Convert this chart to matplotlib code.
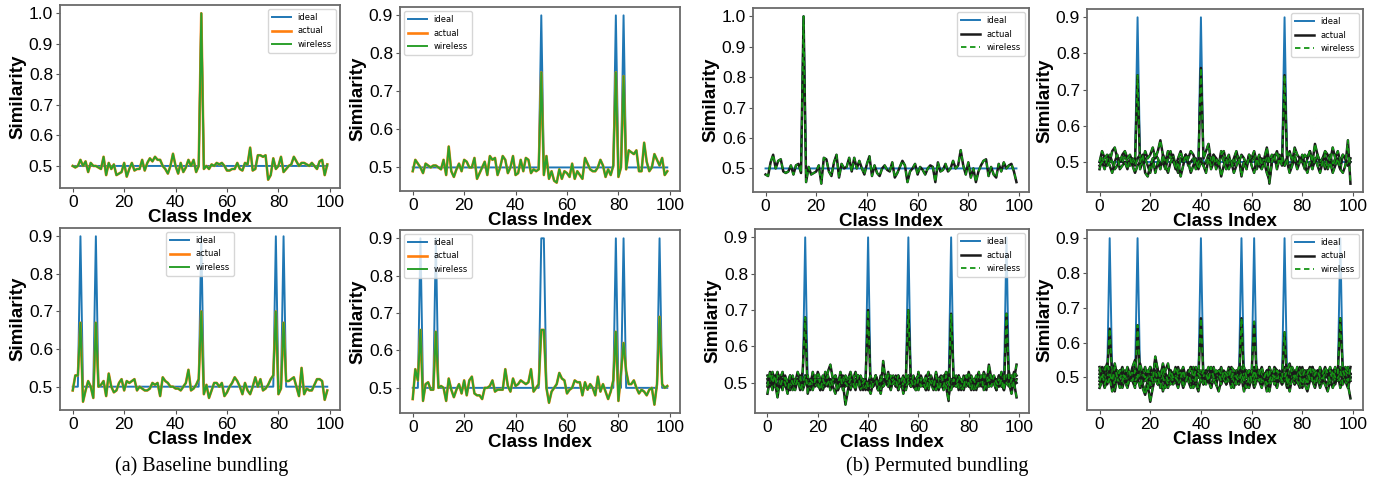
import matplotlib
matplotlib.use("Agg")
import matplotlib.pyplot as plt

x = list(range(100))
xticks = [0, 20, 40, 60, 80, 100]
yticks_1 = [0.5, 0.6, 0.7, 0.8, 0.9, 1.0]
yticks_09 = [0.5, 0.6, 0.7, 0.8, 0.9]

# bundled class indices (where the ideal similarity jumps) and ideal peak height
a1_peaks, a1_top = [50], 1.0
a2_peaks, a2_top = [50, 79, 82], 0.9
a3_peaks, a3_top = [3, 9, 50, 79, 82], 0.9
a4_peaks, a4_top = [3, 9, 50, 51, 79, 82, 96], 0.9
b1_peaks, b1_top = [15], 1.0
b2_peaks, b2_top = [15, 40, 73], 0.9
b3_peaks, b3_top = [15, 40, 56, 73, 95], 0.9
b4_peaks, b4_top = [4, 15, 40, 56, 61, 73, 95], 0.9

# (a) baseline bundling: measured similarity (actual and wireless overlap)
a1_sim = [.50, .495, .50, .52, .50, .515, .48, .51, .50, .50,
          .495, .49, .53, .47, .51, .49, .505, .47, .475, .48,
          .51, .465, .49, .51, .485, .49, .49, .52, .485, .51,
          .525, .515, .53, .52, .52, .50, .49, .475, .50, .54,
          .50, .475, .51, .48, .495, .52, .50, .52, .48, .50,
          1.0, .49, .50, .49, .505, .50, .51, .505, .51, .50,
          .485, .485, .49, .49, .51, .49, .485, .51, .505, .56,
          .485, .49, .535, .535, .53, .535, .455, .47, .525, .49,
          .50, .53, .48, .49, .50, .505, .53, .515, .50, .51,
          .51, .505, .50, .51, .50, .49, .515, .52, .47, .505]
a2_sim = [.49, .52, .51, .50, .485, .51, .505, .50, .505, .505,
          .50, .495, .52, .48, .555, .49, .475, .495, .51, .49,
          .52, .515, .50, .50, .525, .47, .485, .50, .515, .48,
          .53, .52, .525, .48, .50, .53, .52, .485, .50, .53,
          .48, .485, .52, .49, .525, .52, .485, .495, .49, .495,
          .75, .48, .53, .47, .49, .465, .46, .495, .47, .49,
          .485, .475, .51, .47, .49, .48, .47, .525, .51, .495,
          .49, .49, .50, .52, .505, .475, .495, .48, .505, .75,
          .475, .50, .74, .495, .545, .54, .535, .545, .49, .49,
          .565, .515, .49, .50, .535, .52, .505, .525, .48, .49]
a3_sim = [.49, .53, .53, .67, .46, .49, .515, .50, .47, .67,
          .50, .505, .515, .475, .535, .50, .485, .49, .51, .52,
          .49, .515, .51, .515, .52, .49, .50, .495, .49, .49,
          .495, .51, .505, .51, .475, .525, .515, .51, .50, .50,
          .495, .495, .49, .50, .51, .545, .49, .495, .505, .52,
          .70, .48, .505, .47, .49, .51, .51, .50, .51, .475,
          .485, .50, .51, .525, .515, .50, .48, .51, .49, .48,
          .50, .525, .50, .52, .49, .495, .505, .52, .53, .70,
          .48, .495, .67, .515, .515, .52, .525, .50, .475, .55,
          .48, .495, .49, .49, .505, .52, .52, .515, .465, .49]
a4_sim = [.47, .55, .52, .655, .465, .51, .515, .495, .495, .65,
          .50, .505, .50, .465, .525, .495, .475, .495, .51, .485,
          .52, .48, .52, .53, .485, .48, .48, .47, .50, .50,
          .505, .52, .49, .495, .495, .495, .55, .505, .49, .525,
          .505, .51, .52, .515, .51, .515, .55, .49, .50, .51,
          .655, .655, .50, .46, .49, .50, .51, .54, .525, .52,
          .485, .495, .50, .52, .515, .515, .48, .515, .495, .51,
          .50, .48, .53, .49, .51, .49, .47, .49, .52, .65,
          .465, .54, .62, .545, .51, .51, .52, .50, .485, .495,
          .49, .48, .495, .50, .455, .51, .69, .51, .50, .505]

# (b) permuted bundling: one measured curve per bundled class
b1_sims = [
    [.48, .475, .52, .545, .50, .525, .53, .49, .485, .49,
     .51, .48, .51, .515, .485, 1.0, .455, .505, .48, .485,
     .49, .51, .45, .535, .53, .49, .475, .52, .545, .47,
     .515, .50, .505, .535, .49, .535, .50, .525, .50, .48,
     .515, .54, .475, .51, .485, .475, .50, .51, .495, .49,
     .52, .47, .485, .505, .525, .51, .455, .49, .50, .515,
     .48, .505, .495, .48, .50, .51, .505, .455, .52, .49,
     .495, .515, .49, .50, .525, .50, .51, .56, .51, .48,
     .52, .47, .50, .455, .49, .51, .525, .53, .475, .505,
     .48, .47, .515, .49, .52, .50, .51, .515, .49, .455],
]
b2_sims = [
    [.48, .51, .50, .49, .52, .50, .48, .49, .51, .50,
     .52, .50, .49, .51, .50, .74, .48, .50, .51, .49,
     .47, .50, .52, .51, .49, .50, .48, .51, .53, .50,
     .49, .47, .51, .50, .52, .49, .50, .51, .48, .50,
     .51, .49, .50, .52, .48, .50, .51, .49, .53, .50,
     .48, .51, .50, .49, .52, .51, .47, .50, .49, .51,
     .50, .52, .48, .50, .51, .49, .53, .44, .50, .51,
     .49, .52, .50, .49, .51, .48, .50, .52, .49, .51,
     .50, .48, .51, .53, .49, .50, .52, .49, .51, .48,
     .50, .52, .49, .51, .50, .48, .52, .51, .49, .50],
    [.50, .53, .51, .52, .50, .53, .54, .51, .50, .52,
     .53, .51, .52, .50, .49, .51, .52, .50, .53, .51,
     .52, .54, .51, .53, .56, .52, .50, .53, .51, .52,
     .49, .51, .53, .50, .52, .51, .53, .52, .50, .49,
     .76, .51, .53, .55, .50, .52, .51, .49, .52, .53,
     .50, .52, .49, .51, .53, .50, .52, .51, .49, .52,
     .51, .53, .50, .52, .49, .51, .54, .50, .52, .51,
     .53, .50, .52, .49, .51, .53, .50, .54, .52, .51,
     .50, .52, .51, .53, .50, .55, .52, .50, .51, .53,
     .52, .50, .54, .51, .53, .50, .52, .51, .49, .51],
    [.49, .50, .48, .51, .49, .47, .50, .52, .48, .49,
     .50, .48, .51, .49, .47, .49, .50, .52, .47, .46,
     .49, .51, .47, .50, .48, .52, .49, .47, .50, .51,
     .48, .50, .46, .49, .52, .50, .47, .49, .51, .48,
     .50, .49, .47, .51, .49, .52, .48, .50, .46, .49,
     .51, .48, .50, .47, .49, .51, .46, .50, .48, .52,
     .49, .47, .51, .49, .48, .50, .47, .45, .50, .52,
     .48, .51, .49, .74, .50, .47, .49, .51, .48, .50,
     .52, .49, .47, .50, .48, .51, .49, .47, .50, .52,
     .48, .50, .47, .49, .51, .48, .47, .49, .56, .44],
]
b3_sims = [
    [.47, .51, .53, .50, .48, .52, .49, .51, .50, .48,
     .52, .49, .51, .50, .53, .68, .47, .50, .52, .49,
     .51, .48, .50, .53, .49, .51, .50, .52, .48, .50,
     .49, .52, .50, .48, .51, .53, .50, .49, .51, .50,
     .48, .51, .49, .52, .50, .47, .51, .50, .53, .49,
     .50, .52, .48, .51, .49, .50, .52, .49, .51, .48,
     .53, .50, .49, .51, .48, .52, .50, .49, .51, .50,
     .48, .51, .53, .49, .50, .52, .48, .51, .50, .49,
     .52, .50, .48, .51, .53, .49, .50, .52, .49, .51,
     .50, .48, .52, .49, .51, .50, .53, .49, .51, .50],
    [.51, .49, .52, .50, .46, .51, .53, .49, .50, .52,
     .48, .50, .53, .51, .49, .50, .52, .48, .51, .50,
     .53, .51, .49, .50, .52, .48, .50, .51, .49, .53,
     .50, .44, .48, .51, .50, .49, .52, .50, .48, .51,
     .70, .49, .51, .50, .48, .52, .50, .51, .49, .50,
     .52, .49, .50, .51, .47, .50, .52, .49, .51, .50,
     .49, .52, .50, .48, .51, .50, .49, .53, .50, .51,
     .52, .50, .46, .51, .49, .50, .52, .48, .51, .50,
     .49, .51, .50, .52, .49, .50, .51, .48, .52, .50,
     .51, .49, .52, .50, .48, .51, .50, .52, .49, .51],
    [.50, .52, .48, .51, .53, .50, .49, .51, .48, .50,
     .49, .51, .50, .52, .48, .50, .51, .49, .53, .50,
     .51, .49, .52, .50, .53, .55, .51, .52, .50, .49,
     .52, .50, .51, .53, .50, .49, .51, .52, .50, .48,
     .50, .51, .49, .52, .50, .48, .56, .50, .49, .52,
     .51, .49, .52, .50, .48, .51, .70, .50, .49, .51,
     .52, .50, .49, .51, .53, .50, .48, .52, .50, .49,
     .51, .53, .50, .49, .52, .50, .51, .49, .52, .50,
     .53, .50, .51, .49, .52, .50, .53, .51, .49, .52,
     .50, .51, .49, .53, .50, .52, .51, .50, .53, .52],
    [.52, .50, .51, .49, .52, .50, .48, .52, .50, .51,
     .50, .48, .51, .49, .50, .52, .49, .51, .50, .52,
     .49, .51, .48, .50, .52, .49, .51, .50, .48, .51,
     .51, .49, .50, .52, .49, .51, .50, .48, .51, .49,
     .50, .52, .49, .51, .48, .50, .49, .52, .50, .48,
     .51, .50, .52, .49, .50, .48, .51, .49, .52, .50,
     .48, .51, .50, .52, .49, .51, .50, .48, .51, .52,
     .50, .49, .45, .69, .51, .49, .52, .50, .48, .51,
     .49, .52, .50, .48, .51, .50, .52, .49, .55, .51,
     .50, .48, .51, .49, .52, .50, .49, .51, .50, .46],
    [.49, .53, .50, .52, .48, .49, .51, .50, .47, .52,
     .50, .49, .51, .48, .50, .52, .49, .50, .48, .51,
     .50, .48, .51, .49, .50, .51, .49, .47, .50, .52,
     .48, .50, .49, .51, .50, .48, .52, .49, .50, .51,
     .49, .47, .50, .52, .48, .51, .49, .50, .52, .49,
     .50, .51, .48, .50, .52, .49, .50, .51, .49, .48,
     .51, .49, .50, .48, .51, .50, .49, .52, .48, .50,
     .49, .52, .50, .48, .51, .49, .50, .51, .49, .52,
     .50, .48, .51, .49, .50, .52, .48, .50, .51, .49,
     .52, .50, .49, .51, .48, .69, .50, .47, .51, .55],
]
b4_sims = [
    [.52, .50, .53, .51, .64, .50, .52, .49, .51, .53,
     .50, .52, .49, .51, .53, .50, .52, .48, .51, .50,
     .53, .51, .49, .52, .50, .54, .51, .50, .52, .49,
     .51, .53, .50, .52, .49, .51, .50, .53, .52, .50,
     .52, .49, .51, .53, .50, .52, .48, .51, .53, .50,
     .51, .52, .50, .49, .52, .51, .53, .50, .52, .49,
     .50, .53, .51, .52, .50, .49, .52, .51, .50, .53,
     .52, .50, .51, .49, .53, .51, .50, .52, .49, .51,
     .53, .50, .52, .51, .49, .52, .50, .53, .51, .50,
     .52, .49, .51, .53, .50, .52, .51, .49, .53, .51],
    [.48, .50, .47, .49, .51, .48, .46, .50, .49, .47,
     .50, .48, .51, .49, .47, .65, .50, .48, .46, .49,
     .47, .49, .51, .48, .50, .46, .49, .47, .50, .48,
     .49, .47, .50, .48, .51, .49, .47, .50, .48, .46,
     .50, .48, .49, .51, .47, .50, .48, .46, .49, .51,
     .48, .50, .47, .49, .51, .48, .50, .46, .49, .47,
     .50, .48, .51, .49, .47, .50, .48, .46, .50, .49,
     .47, .50, .48, .51, .49, .46, .50, .48, .49, .47,
     .50, .48, .46, .49, .51, .48, .50, .47, .49, .48,
     .46, .49, .50, .48, .51, .47, .49, .50, .48, .44],
    [.51, .53, .50, .52, .49, .51, .54, .50, .52, .51,
     .49, .52, .50, .53, .55, .51, .50, .52, .49, .51,
     .53, .50, .55, .52, .51, .49, .52, .54, .50, .51,
     .52, .49, .51, .53, .50, .52, .48, .51, .53, .50,
     .67, .50, .52, .49, .51, .53, .50, .52, .49, .51,
     .50, .53, .51, .49, .52, .50, .53, .51, .50, .52,
     .51, .49, .53, .50, .52, .51, .49, .53, .50, .52,
     .49, .52, .50, .53, .51, .50, .52, .49, .51, .53,
     .50, .52, .49, .51, .53, .50, .52, .51, .49, .52,
     .51, .53, .50, .52, .49, .51, .50, .53, .52, .50],
    [.47, .49, .51, .48, .50, .46, .49, .51, .48, .50,
     .49, .47, .50, .52, .48, .49, .51, .47, .45, .48,
     .43, .47, .50, .48, .49, .51, .47, .50, .48, .49,
     .51, .48, .50, .47, .49, .52, .48, .50, .49, .47,
     .50, .48, .51, .49, .47, .50, .48, .51, .49, .50,
     .48, .51, .49, .47, .50, .48, .67, .49, .51, .48,
     .50, .47, .49, .51, .48, .50, .46, .49, .51, .48,
     .49, .51, .48, .50, .47, .49, .51, .48, .50, .49,
     .47, .50, .48, .51, .49, .47, .50, .48, .51, .49,
     .48, .50, .47, .49, .51, .48, .50, .49, .47, .50],
    [.50, .52, .49, .51, .53, .50, .48, .52, .50, .51,
     .52, .49, .51, .50, .48, .52, .50, .51, .53, .49,
     .51, .50, .52, .49, .51, .53, .50, .49, .52, .51,
     .49, .51, .50, .52, .49, .51, .53, .50, .48, .52,
     .51, .49, .52, .50, .51, .49, .50, .52, .51, .49,
     .50, .52, .49, .51, .50, .53, .51, .49, .52, .50,
     .51, .66, .50, .52, .49, .51, .50, .53, .51, .49,
     .52, .50, .51, .49, .52, .50, .53, .51, .50, .52,
     .49, .51, .52, .50, .53, .51, .49, .52, .50, .51,
     .50, .52, .51, .49, .51, .53, .50, .52, .51, .49],
    [.49, .51, .48, .50, .52, .49, .51, .50, .47, .49,
     .51, .48, .50, .52, .49, .50, .47, .51, .49, .50,
     .48, .51, .49, .50, .47, .52, .50, .48, .51, .49,
     .50, .49, .52, .48, .50, .51, .49, .47, .50, .52,
     .49, .51, .48, .50, .52, .49, .50, .51, .48, .50,
     .51, .49, .50, .52, .48, .50, .51, .49, .47, .50,
     .52, .48, .50, .49, .51, .50, .48, .52, .49, .51,
     .49, .51, .50, .63, .48, .50, .52, .49, .51, .50,
     .48, .50, .52, .49, .51, .48, .50, .51, .49, .52,
     .50, .48, .51, .49, .50, .52, .48, .50, .49, .51],
    [.53, .50, .52, .54, .51, .49, .53, .50, .52, .51,
     .50, .53, .51, .49, .52, .50, .54, .51, .50, .52,
     .51, .49, .56, .52, .50, .53, .51, .49, .52, .50,
     .53, .51, .50, .52, .49, .51, .53, .50, .52, .51,
     .50, .52, .51, .49, .53, .50, .52, .51, .49, .52,
     .51, .50, .53, .52, .50, .49, .51, .53, .50, .52,
     .49, .52, .50, .51, .53, .50, .52, .49, .51, .50,
     .52, .51, .49, .50, .52, .54, .51, .50, .53, .51,
     .50, .52, .51, .53, .49, .51, .52, .50, .51, .53,
     .51, .49, .52, .50, .51, .67, .52, .50, .49, .53],
]

IDEAL, ACTUAL, WIRELESS = "#1f77b4", "#ff7f0e", "#2ca02c"
W, H = 1379, 487


def ideal_curve(peaks, top):
    y = [0.5] * len(x)
    for p in peaks:
        y[p] = top
    return y


def frame(ax, rect, yticks):
    l, t, r, b = rect
    ax.set_position([l / W, 1 - b / H, (r - l) / W, (b - t) / H])
    ax.set_xticks(xticks)
    ax.set_yticks(yticks)
    ax.tick_params(labelsize=12.5, length=3, color="#555", pad=2)
    for lab in ax.get_xticklabels() + ax.get_yticklabels():
        lab.set_family("Liberation Sans")
    for s in ax.spines.values():
        s.set_color("#6a6a6a")
        s.set_linewidth(1.3)
    ax.set_xlabel("Class Index", family="Liberation Sans", weight="bold",
                  fontsize=13.5, labelpad=-1)
    ax.set_ylabel("Similarity", family="Liberation Sans", weight="bold",
                  fontsize=13.5, labelpad=2)


def baseline_panel(ax, rect, sim, peaks, top, yticks, loc):
    ax.plot(x, ideal_curve(peaks, top), color=IDEAL, lw=1.4, label="ideal")
    ax.plot(x, sim, color=ACTUAL, lw=1.9, label="actual")
    ax.plot(x, sim, color=WIRELESS, lw=1.4, label="wireless")
    frame(ax, rect, yticks)
    ax.legend(loc=loc, fontsize=6, handlelength=2.2, borderpad=0.5)


def permuted_panel(ax, rect, sims, peaks, top, yticks):
    ax.plot(x, ideal_curve(peaks, top), color=IDEAL, lw=1.4, label="ideal")
    for i, s in enumerate(sims):
        ax.plot(x, s, color="#1a1a1a", lw=1.8, label="actual" if i == 0 else None)
        ax.plot(x, s, color="#149414", lw=1.3, ls=(0, (3, 2)),
                label="wireless" if i == 0 else None)
    frame(ax, rect, yticks)
    h, lab = ax.get_legend_handles_labels()
    ax.legend(h, lab, loc="upper right", fontsize=6, handlelength=2.2, borderpad=0.5)


fig = plt.figure(figsize=(W / 100, H / 100), dpi=100)
axs = [fig.add_axes([0, 0, 1, 1]) for _ in range(8)]

baseline_panel(axs[0], (60, 5, 340, 188), a1_sim, a1_peaks, a1_top, yticks_1, "upper right")
baseline_panel(axs[1], (400, 7, 680, 191), a2_sim, a2_peaks, a2_top, yticks_09, "upper left")
baseline_panel(axs[2], (60, 228, 340, 410), a3_sim, a3_peaks, a3_top, yticks_09, "upper center")
baseline_panel(axs[3], (400, 230, 680, 413), a4_sim, a4_peaks, a4_top, yticks_09, "upper left")
permuted_panel(axs[4], (753, 8, 1029, 192), b1_sims, b1_peaks, b1_top, yticks_1)
permuted_panel(axs[5], (1087, 9, 1363, 192), b2_sims, b2_peaks, b2_top, yticks_09)
permuted_panel(axs[6], (755, 229, 1029, 413), b3_sims, b3_peaks, b3_top, yticks_09)
permuted_panel(axs[7], (1087, 230, 1363, 410), b4_sims, b4_peaks, b4_top, yticks_09)

fig.text(202 / W, 1 - 466 / H, "(a) Baseline bundling", family="Liberation Serif",
         fontsize=14.5, ha="center", va="center")
fig.text(937 / W, 1 - 466 / H, "(b) Permuted bundling", family="Liberation Serif",
         fontsize=14.5, ha="center", va="center")

fig.savefig("out.png", dpi=100)
